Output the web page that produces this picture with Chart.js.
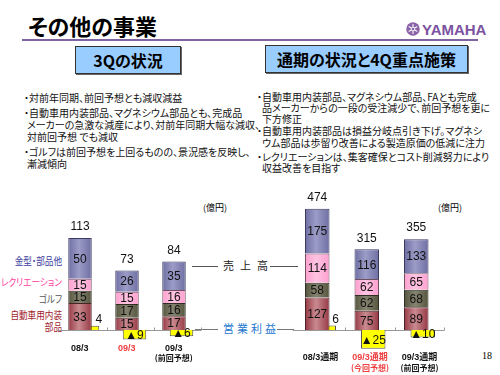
<!DOCTYPE html>
<html>
<head>
<meta charset="utf-8">
<script src="https://cdn.jsdelivr.net/npm/chart.js@4.4.1/dist/chart.umd.min.js"></script>
<style>
body { margin: 0; background: #fff; font-family: "Noto Sans CJK JP", sans-serif; }
#slide { position: relative; width: 500px; height: 375px; overflow: hidden; }
.a { position: absolute; white-space: nowrap; line-height: 1; }
.jp { font-feature-settings: "palt"; }
.box { position: absolute; background: #99ccff; border: 1px solid #333; box-shadow: 1px 1px 0 #666;
       font-weight: bold; font-size: 16px; display: flex; align-items: center; justify-content: center; }
.txt { font-size: 10px; color: #111; }
.leg { font-size: 10px; text-align: right; right: 438px; transform: scaleX(0.86); transform-origin: right center; }
.ln { position: absolute; height: 1px; background: #555; }
canvas { position: absolute; }
</style>
</head>
<body>
<div id="slide">
  <div class="a jp" style="left:28px;top:14px;font-size:22px;font-weight:bold;">その他の事業</div>
  <div style="position:absolute;left:22px;top:39px;width:456px;height:2px;background:#8064a2;"></div>
  <svg style="position:absolute;left:406px;top:22px;" width="14" height="14" viewBox="0 0 28 28">
    <circle cx="14" cy="14" r="13.5" fill="#8a63a8"/>
    <g stroke="#fff" stroke-width="2.2" stroke-linecap="round">
      <line x1="14" y1="5" x2="14" y2="23"/><line x1="6.2" y1="9.5" x2="21.8" y2="18.5"/><line x1="6.2" y1="18.5" x2="21.8" y2="9.5"/>
    </g>
    <circle cx="14" cy="14" r="3.5" fill="#8a63a8" stroke="#fff" stroke-width="1.5"/>
  </svg>
  <div class="a" style="left:422px;top:22px;font-size:15px;font-weight:bold;color:#7b52a0;font-family:'Liberation Sans Narrow','Liberation Sans',sans-serif;">YAMAHA</div>

  <div class="box jp" style="left:75px;top:46px;width:104px;height:26px;">3Qの状況</div>
  <div class="box jp" style="left:265px;top:45px;width:201px;height:26px;">通期の状況と4Q重点施策</div>

  <div class="a jp txt" style="left:24px;top:93px;">・対前年同期、前回予想とも減収減益</div>
  <div class="a jp txt" style="left:24px;top:108px;">・自動車用内装部品、マグネシウム部品とも、完成品</div>
  <div class="a jp txt" style="left:27px;top:120px;">メーカーの急激な減産により、対前年同期大幅な減収、</div>
  <div class="a jp txt" style="left:27px;top:132px;">対前回予想 でも減収</div>
  <div class="a jp txt" style="left:24px;top:147px;">・ゴルフは前回予想を上回るものの、景況感を反映し、</div>
  <div class="a jp txt" style="left:27px;top:159px;">漸減傾向</div>

  <div class="a jp txt" style="left:257px;top:92px;">・自動車用内装部品、マグネシウム部品、FAとも完成</div>
  <div class="a jp txt" style="left:262px;top:103px;">品メーカーからの一段の受注減少で、前回予想を更に</div>
  <div class="a jp txt" style="left:262px;top:114px;">下方修正</div>
  <div class="a jp txt" style="left:257px;top:126px;">・自動車用内装部品は損益分岐点引き下げ。マグネシ</div>
  <div class="a jp txt" style="left:262px;top:138px;">ウム部品は歩留り改善による製造原価の低減に注力</div>
  <div class="a jp txt" style="left:257px;top:152px;">・レクリエーションは、集客確保とコスト削減努力により</div>
  <div class="a jp txt" style="left:262px;top:163px;">収益改善を目指す</div>

  <div class="a jp leg" style="top:256px;color:#3c3c9c;">金型・部品他</div>
  <div class="a jp leg" style="top:277px;color:#ff3fa0;">レクリエーション</div>
  <div class="a jp leg" style="top:294px;color:#555;">ゴルフ</div>
  <div class="a jp leg" style="top:310px;color:#a01c2c;">自動車用内装</div>
  <div class="a jp leg" style="top:322px;color:#a01c2c;">部品</div>

  <div class="a jp" style="left:203px;top:203px;font-size:9px;">(億円)</div>
  <div class="a jp" style="left:438px;top:203px;font-size:9px;">(億円)</div>

  <div class="ln" style="left:192px;top:266px;width:26px;"></div>
  <div class="a jp" style="left:223px;top:260px;font-size:11px;letter-spacing:6px;color:#222;">売上高</div>
  <div class="ln" style="left:270px;top:266px;width:28px;"></div>
  <div class="ln" style="left:195px;top:329px;width:23px;background:#777;"></div>
  <div class="a jp" style="left:223px;top:323px;font-size:11px;letter-spacing:3px;color:#1f78d0;">営業利益</div>
  <div class="ln" style="left:277px;top:329px;width:17px;background:#777;"></div>

  <div class="a" style="left:482px;top:351px;font-size:10px;font-family:'Liberation Serif',serif;">18</div>

  <canvas id="cq" width="180" height="195" style="left:40px;top:180px;"></canvas>
  <canvas id="cy" width="200" height="195" style="left:270px;top:180px;"></canvas>
</div>
<script>
// 3Q (億円)
const catsQ = ['08/3', '09/3', '09/3'];
const subQ = ['', '', '(前回予想)'];
const autoQ = [33, 15, 17];
const golfQ = [15, 17, 16];
const recQ = [15, 15, 16];
const otherQ = [50, 26, 35];
const totalQ = [113, 73, 84];
const profitQ = [4, -9, -6];

// 通期 (億円)
const catsY = ['08/3通期', '09/3通期', '09/3通期'];
const subY = ['', '(今回予想)', '(前回予想)'];
const autoY = [127, 75, 89];
const golfY = [58, 62, 68];
const recY = [114, 62, 65];
const otherY = [175, 116, 133];
const totalY = [474, 315, 355];
const profitY = [6, -25, -10];

const redCat = '#f04040';

const slideLabels = {
  id: 'slideLabels',
  beforeDatasetsDraw(chart) {
    const ctx = chart.ctx, a = chart.chartArea;
    const y0 = Math.round(chart.scales.y.getPixelForValue(0)) + 0.5;
    const catW = a.width / chart.data.labels.length;
    ctx.save();
    ctx.strokeStyle = '#999';
    ctx.lineWidth = 1;
    ctx.beginPath();
    ctx.moveTo(a.left - 3, y0);
    ctx.lineTo(a.right, y0);
    for (let i = 1; i <= chart.data.labels.length; i++) {
      const x = Math.round(a.left + i * catW) + 0.5;
      ctx.moveTo(x, y0 - 3);
      ctx.lineTo(x, y0);
    }
    ctx.stroke();
    ctx.restore();
  },
  afterDatasetsDraw(chart) {
    const o = chart.options.plugins.slideLabels;
    const ctx = chart.ctx;
    const y0 = chart.scales.y.getPixelForValue(0);
    ctx.save();
    ctx.textAlign = 'center';
    ctx.textBaseline = 'middle';
    ctx.fillStyle = '#111';
    ctx.font = '12px "Liberation Sans", "DejaVu Sans", sans-serif';
    chart.data.datasets.forEach((ds, di) => {
      const meta = chart.getDatasetMeta(di);
      meta.data.forEach((el, i) => {
        const v = ds.data[i];
        if (ds.stack === 's') {
          ctx.fillText(String(v), el.x, (el.y + el.base) / 2 + 1);
        } else if (v >= 0) {
          ctx.textAlign = 'right';
          ctx.fillText(String(v), el.x + el.width / 2 + 3, el.y - 6);
          ctx.textAlign = 'center';
        } else {
          ctx.fillText('▲' + (-v), el.x, (el.y + el.base) / 2 + 1);
        }
      });
    });
    chart.getDatasetMeta(3).data.forEach((el, i) => {
      ctx.fillText(String(o.totals[i]), el.x, el.y - 11);
    });
    const xs = chart.scales.x;
    chart.data.labels.forEach((lab, i) => {
      const x = xs.getPixelForValue(i) + o.dx;
      ctx.fillStyle = o.red[i] ? redCat : '#111';
      ctx.font = 'bold 9px "Liberation Sans", "Noto Sans CJK JP", sans-serif';
      ctx.fillText(lab, x, y0 + o.catY);
      if (o.sub[i]) {
        ctx.font = 'bold 8px "Noto Sans CJK JP", sans-serif';
        ctx.fillText(o.sub[i], x, y0 + o.subY);
      }
    });
    ctx.restore();
  }
};

function makeChart(id, cfg) {
  const el = document.getElementById(id);
  // horizontal shading so each segment looks like a rounded column
  const shade = (edge, mid) => (c) => {
    const ch = c.chart, xs = ch.scales.x;
    if (c.type !== 'data' || !xs || !ch.chartArea) return mid;
    const catW = ch.chartArea.width / ch.data.labels.length;
    const d = catW * cfg.catPct / 2;
    const w = d * cfg.barPct;
    const cx = xs.getPixelForValue(c.dataIndex) - d / 2;
    const g = ch.ctx.createLinearGradient(cx - w / 2, 0, cx + w / 2, 0);
    g.addColorStop(0, edge);
    g.addColorStop(0.45, mid);
    g.addColorStop(1, edge);
    return g;
  };
  return new Chart(el, {
    type: 'bar',
    data: {
      labels: cfg.labels,
      datasets: [
        { label: '自動車用内装部品', data: cfg.auto, stack: 's', backgroundColor: shade('#963844', '#c98a90'), borderColor: '#4a2228' },
        { label: 'ゴルフ', data: cfg.golf, stack: 's', backgroundColor: shade('#55553e', '#858470'), borderColor: '#2e2e22' },
        { label: 'レクリエーション', data: cfg.rec, stack: 's', backgroundColor: shade('#ff9fcf', '#ffc4e2'), borderColor: '#705060' },
        { label: '金型・部品他', data: cfg.other, stack: 's', backgroundColor: shade('#6e6ea2', '#9c9cc8'), borderColor: '#3a3a62' },
        { label: '営業利益', data: cfg.profit, stack: 'p', yAxisID: 'y2', backgroundColor: '#ffff00', borderColor: '#555' }
      ]
    },
    options: {
      responsive: false,
      animation: false,
      categoryPercentage: cfg.catPct,
      barPercentage: cfg.barPct,
      borderWidth: 1,
      layout: { padding: { left: cfg.padL, right: cfg.padR, top: 0, bottom: 0 } },
      scales: {
        x: { display: false, stacked: true },
        y: { display: false, stacked: true, min: cfg.yMin, max: cfg.yMax },
        y2: { display: false, min: cfg.y2Min, max: cfg.y2Max }
      },
      plugins: {
        legend: { display: false },
        tooltip: { enabled: false },
        slideLabels: { totals: cfg.totals, sub: cfg.sub, red: cfg.red, dx: cfg.dx, catY: cfg.catY, subY: cfg.subY }
      }
    },
    plugins: [slideLabels]
  });
}

makeChart('cq', {
  labels: catsQ, sub: subQ, red: [false, true, false],
  auto: autoQ, golf: golfQ, rec: recQ, other: otherQ, totals: totalQ, profit: profitQ,
  catPct: 15 / 47, barPct: 3.13, padL: 20.25, padR: 18.75,
  yMin: -55.2, yMax: 184, y2Min: -42.9, y2Max: 142.9,
  dx: -4, catY: 19, subY: 28
});

makeChart('cy', {
  labels: catsY, sub: subY, red: [false, true, false],
  auto: autoY, golf: golfY, rec: recY, other: otherY, totals: totalY, profit: profitY,
  catPct: 13 / 49.5, barPct: 3.77, padL: 25.75, padR: 25.75,
  yMin: -175.8, yMax: 586, y2Min: -60, y2Max: 200,
  dx: 0, catY: 28, subY: 38
});
</script>
</body>
</html>
